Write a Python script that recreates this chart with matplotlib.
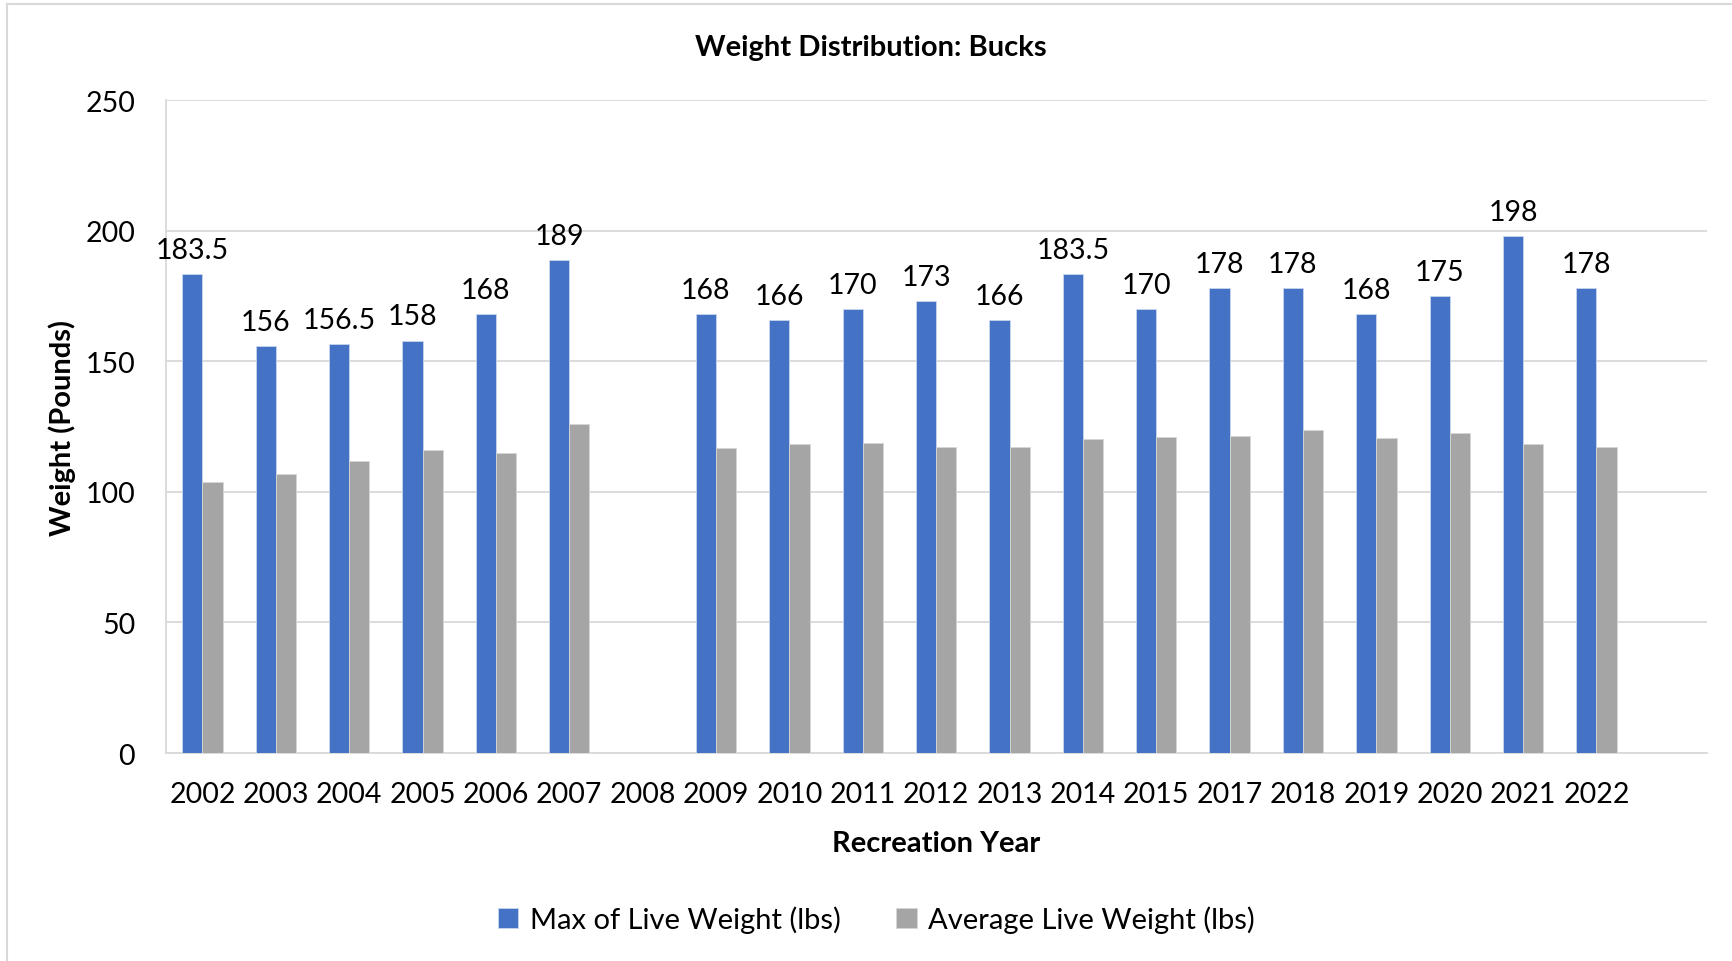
import numpy as np
import matplotlib.pyplot as plt
from matplotlib.lines import Line2D

plt.rcParams['font.family'] = ['Lato', 'DejaVu Sans']

# data
years = ["2002", "2003", "2004", "2005", "2006", "2007", "2008", "2009", "2010", "2011",
         "2012", "2013", "2014", "2015", "2017", "2018", "2019", "2020", "2021", "2022"]
max_weight = [183.5, 156, 156.5, 158, 168, 189, np.nan, 168, 166, 170,
              173, 166, 183.5, 170, 178, 178, 168, 175, 198, 178]
avg_weight = [104, 107, 112, 116, 115, 126, np.nan, 116.7, 118.3, 118.9,
              117.3, 117.4, 120.3, 121, 121.5, 123.8, 120.7, 122.6, 118.4, 117.4]

BLUE = "#4472C4";
GREY = "#A5A5A5";

fig = plt.figure(figsize=(17.32, 9.62), dpi=100);
ax = fig.add_axes([0.0957, 0.2162, 0.8896, 0.6784]);

x = np.arange(len(years));
w = 0.275;
b1 = ax.bar(x - w/2, max_weight, w, color=BLUE, edgecolor="#C9D6EE", linewidth=0.6,
            label="Max of Live Weight (lbs)", zorder=3);
b2 = ax.bar(x + w/2, avg_weight, w, color=GREY, edgecolor="#D6D6D6", linewidth=0.6,
            label="Average Live Weight (lbs)", zorder=3);

# labels on the max bars
for xi, v in zip(x, max_weight):
    if np.isnan(v):
        continue
    lab = ("%g" % v);
    ax.annotate(lab, (xi - w/2, v), xytext=(0, 8), textcoords="offset points",
                ha="center", va="bottom", fontsize=20.5);

ax.set_xlim(-0.5, 20.5);
ax.set_ylim(0, 250);
ax.set_yticks([0, 50, 100, 150, 200, 250]);
ax.set_xticks(x);
ax.set_xticklabels(years);
ax.tick_params(axis="both", length=0, labelsize=20.5);
ax.tick_params(axis="x", pad=20);
ax.tick_params(axis="y", pad=22);

ax.yaxis.grid(True, color="#D9D9D9", linewidth=1.3, zorder=0);
for s in ["top", "right"]:
    ax.spines[s].set_visible(False);
ax.spines["left"].set_color("#D9D9D9");
ax.spines["bottom"].set_color("#D9D9D9");
ax.spines["left"].set_linewidth(1.3);
ax.spines["bottom"].set_linewidth(1.3);

ax.set_xlabel("Recreation Year", fontsize=21, fontweight="bold", labelpad=17);
ax.set_ylabel("Weight (Pounds)", fontsize=21, fontweight="bold", labelpad=7);
fig.text(0.503, 0.950, "Weight Distribution: Bucks", ha="center", va="center",
         fontsize=21, fontweight="bold");

fig.legend(handles=[b1, b2], loc="center", bbox_to_anchor=(0.506, 0.043), ncol=2,
           frameon=False, fontsize=21, handlelength=0.7, handleheight=0.7,
           handletextpad=0.4, columnspacing=1.9);

# outer chart frame
fig.add_artist(Line2D([0.004, 0.004], [0.0, 0.995], transform=fig.transFigure,
                      color="#D9D9D9", linewidth=1.5));
fig.add_artist(Line2D([0.004, 1.0], [0.995, 0.995], transform=fig.transFigure,
                      color="#D9D9D9", linewidth=1.5));

fig.savefig("out.png", dpi=100);
